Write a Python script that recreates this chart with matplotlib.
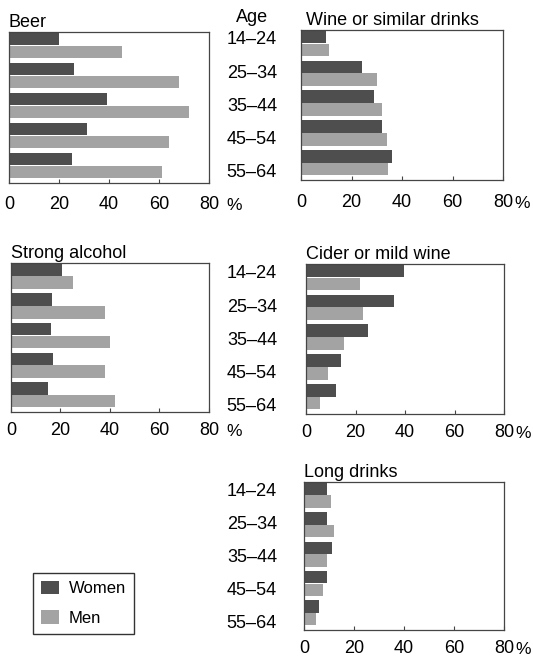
import matplotlib.pyplot as plt
import numpy as np
from matplotlib.patches import Patch
from matplotlib.transforms import blended_transform_factory

plt.rcParams['font.family'] = ['Liberation Sans', 'DejaVu Sans']

# ---------------- data (percent) ----------------
ages = ["14\u201324", "25\u201334", "35\u201344", "45\u201354", "55\u201364"]

beer_women = [20, 26, 39, 31, 25]
beer_men = [45, 68, 72, 64, 61]

wine_women = [10, 24, 29, 32, 36]
wine_men = [11, 30, 32, 34, 34.5]

strong_women = [20.5, 16.5, 16, 17, 15]
strong_men = [25, 38, 40, 38, 42]

cider_women = [39.5, 35.5, 25, 14, 12]
cider_men = [22, 23, 15.5, 9, 5.5]

long_women = [9.3, 9.3, 11, 9, 6]
long_men = [10.8, 12, 9, 7.5, 4.6]

xticks = [0, 20, 40, 60, 80]

WOMEN_C = "#4e4e4e"
MEN_C = "#a3a3a3"
EDGE_C = "#454545"
FS = 13

fig = plt.figure(figsize=(5.33, 6.59), dpi=100)
W, H = 533, 659


def px_axes(left, top, right, bottom):
    return fig.add_axes([left / W, 1 - bottom / H, (right - left) / W, (bottom - top) / H])


def panel(ax, title, women, men, pct_gap, pad, title_dx=0):
    y = np.arange(len(women))
    ax.barh(y - 0.215, women, height=0.42, color=WOMEN_C, linewidth=0)
    ax.barh(y + 0.215, men, height=0.42, color=MEN_C, linewidth=0)
    ax.set_xlim(0, 80)
    ax.set_ylim(4.58, -0.45)
    ax.set_yticks([])
    ax.set_xticks(xticks)
    ax.set_xticklabels([str(t) for t in xticks], fontsize=FS)
    ax.tick_params(axis='x', direction='in', length=3, width=0.8, color=EDGE_C, pad=pad)
    for s in ax.spines.values():
        s.set_color(EDGE_C)
        s.set_linewidth(0.9)
    ax.annotate(title, xy=(0, 1), xycoords='axes fraction', xytext=(title_dx, 1),
                textcoords='offset pixels', fontsize=FS, ha='left', va='bottom')
    # percent sign after the last tick label
    ax.annotate("%", xy=(1, 0), xycoords='axes fraction', xytext=(pct_gap, -pad * 1.389 - 2),
                textcoords='offset pixels', fontsize=12.5, ha='left', va='top')


def age_labels(ax):
    tr = blended_transform_factory(fig.transFigure, ax.transAxes)
    for i, a in enumerate(ages):
        ax.text(277 / W, 1 - (0.065 + 0.222 * i), a, transform=tr, fontsize=FS,
                ha='right', va='center')


ax_beer = px_axes(9, 32, 209, 183)
ax_wine = px_axes(301, 30, 503, 180)
ax_strong = px_axes(11, 263, 209, 412)
ax_cider = px_axes(306, 264, 504, 414)
ax_long = px_axes(304, 482, 504, 630)

panel(ax_beer, "Beer", beer_women, beer_men, 17, 9.5)
panel(ax_wine, "Wine or similar drinks", wine_women, wine_men, 11, 10, title_dx=5)
panel(ax_strong, "Strong alcohol", strong_women, strong_men, 17, 7)
panel(ax_cider, "Cider or mild wine", cider_women, cider_men, 11, 7.5)
panel(ax_long, "Long drinks", long_women, long_men, 11, 7.5)

age_labels(ax_wine)
age_labels(ax_cider)
age_labels(ax_long)
fig.text(236 / W, 1 - 17 / H, "Age", fontsize=FS, ha='left', va='center')

handles = [Patch(facecolor=WOMEN_C, edgecolor='none'), Patch(facecolor=MEN_C, edgecolor='none')]
leg = fig.legend(handles, ["Women", "Men"], loc='upper left', bbox_to_anchor=(33 / W, 1 - 573 / H),
                 fontsize=12, frameon=True, fancybox=False, edgecolor='black',
                 handlelength=1.1, handleheight=0.9, labelspacing=0.85, borderpad=0.45,
                 handletextpad=0.6, borderaxespad=0)
leg.get_frame().set_linewidth(1.0)

fig.savefig("out.png", dpi=100)
